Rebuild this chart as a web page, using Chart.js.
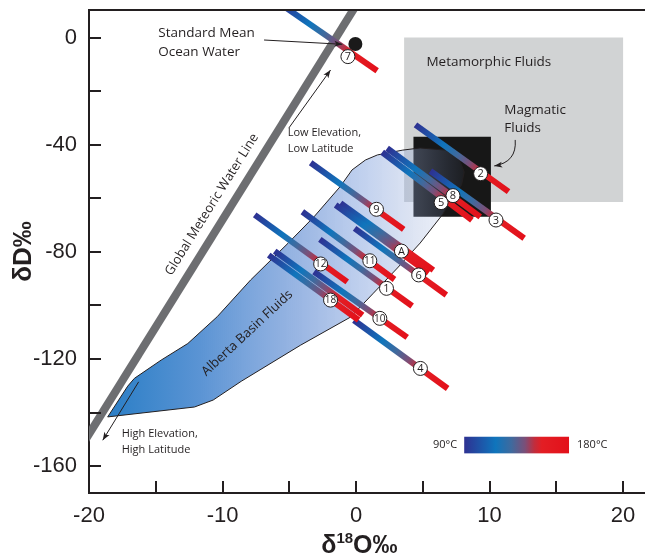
<!DOCTYPE html>
<html>
<head>
<meta charset="utf-8">
<script src="https://cdn.jsdelivr.net/npm/chart.js@4.4.1/dist/chart.umd.min.js"></script>
<style>
  html, body { margin: 0; padding: 0; background: #fff; overflow: hidden; }
</style>
</head>
<body>
<canvas id="chart" width="645" height="557"></canvas>
<script>
// axis ticks (marks) and which of them carry a label
const xTicks = [-20, -15, -10, -5, 0, 5, 10, 15, 20];
const yTicks = [0, -20, -40, -60, -80, -100, -120, -140, -160];
const xTickLabels = [-20, -10, 0, 10, 20];
const yTickLabels = [0, -40, -80, -120, -160];

// global meteoric water line (two end points)
const gmwlX = [-25, 5];
const gmwlY = [-188, 52];

// Alberta basin fluids field outline
const albertaX = [-18.6, -17.1, -16.6, -14.6, -12.6, -10.4, -7.9, -5.1, -3.15, -1.2, -0.3, 0.7, 1.6, 3.5, 4.8, 6.7, 7.7, 8.1, 7.9, 7.2, 6.5, 4.8, 3.1, 1.3, -0.4, -4.15, -8.6, -10.7, -12.1, -18.6];
const albertaY = [-141.6, -130.1, -127.2, -120.4, -114.2, -104.2, -90.5, -76.8, -66.9, -55.7, -49.4, -45.7, -43.8, -42.0, -41.2, -42.0, -45.0, -50.2, -55.0, -59.9, -65.9, -76.7, -86.0, -95.4, -104.3, -114.8, -128.3, -135.3, -137.9, -141.6];

// metamorphic and magmatic fields (x range, y range)
const metamorphicX = [3.6, 20.0];
const metamorphicY = [0, -61.4];
const magmaticX = [4.3, 10.1];
const magmaticY = [-37.0, -66.9];

// standard mean ocean water
const smowX = -0.05;
const smowY = -2.4;

// fluid tracks, 90 C end -> 180 C end
const barStartX = [-5.64, 4.45, 5.57, 2.33, 1.96, -3.40, -7.59, -6.54, -6.09, -4.02, -2.71, -1.53, -1.16, -0.11, -3.15, -0.16];
const barStartY = [12.5, -32.6, -49.8, -41.3, -42.8, -46.7, -66.2, -81.2, -79.7, -65.0, -75.3, -62.5, -61.8, -71.2, -87.4, -105.5];
const barEndX = [1.58, 11.42, 12.59, 9.30, 8.68, 3.57, -0.66, 0.19, 0.49, 2.88, 4.20, 5.42, 5.79, 6.76, 3.83, 6.86];
const barEndY = [-12.4, -57.5, -74.9, -66.9, -68.1, -71.6, -91.2, -105.4, -103.6, -90.3, -100.2, -87.9, -86.8, -96.1, -111.9, -131.0];

// sample markers
const circleLabels = ['7', '2', '3', '5', '8', '9', '12', '18', '11', '1', 'A', '6', '10', '4'];
const circleX = [-0.61, 9.33, 10.48, 6.37, 7.26, 1.53, -2.65, -1.91, 1.03, 2.28, 3.40, 4.69, 1.78, 4.82];
const circleY = [-7.1, -50.8, -68.1, -61.6, -59.0, -64.1, -84.5, -98.0, -83.3, -93.6, -79.7, -88.6, -104.8, -123.5];

// temperature legend
const legendX = [8.1, 15.95];
const legendY = [-149.0, -155.2];
const legendText = ['90°C', '180°C'];

const INK = '#231f20';
const SANS = '"Open Sans", "Noto Sans", sans-serif';
const ARIAL = '"Liberation Sans", Arial, sans-serif';
const tempStops = [[0, '#2e3192'], [0.3, '#0f75bc'], [0.45, '#3f6a9e'], [0.58, '#7b4f78'], [0.67, '#c12d3d'], [0.74, '#e31e24'], [1, '#e3101a']];

const notes = [
  {text: 'Standard Mean', x: -14.81, y: 1.6, size: 13.5},
  {text: 'Ocean Water', x: -14.81, y: -5.3, size: 13.5},
  {text: 'Metamorphic Fluids', x: 5.27, y: -9.1, size: 13.5},
  {text: 'Magmatic', x: 11.1, y: -27.0, size: 13.5},
  {text: 'Fluids', x: 11.1, y: -33.8, size: 13.5},
  {text: 'Low Elevation,', x: -5.12, y: -35.4, size: 11},
  {text: 'Low Latitude', x: -5.12, y: -41.4, size: 11},
  {text: 'High Elevation,', x: -17.55, y: -147.8, size: 11},
  {text: 'High Latitude', x: -17.55, y: -154.0, size: 11},
  {text: 'Global Meteoric Water Line', x: -10.8, y: -62.3, size: 13, angle: -58, align: 'center'},
  {text: 'Alberta Basin Fluids', x: -8.15, y: -110.3, size: 13, angle: -43, align: 'center'}
];
const arrows = [
  {from: [-6.89, -0.9], to: [-1.03, -2.5]},
  {from: [-5.04, -33.8], to: [-1.91, -12.1]},
  {from: [-16.28, -128.5], to: [-18.97, -150.3]},
  {from: [11.92, -38.2], via: [12.05, -46.5], to: [10.35, -47.9]}
];

const pts = (xs, ys) => xs.map((v, i) => ({x: v, y: ys[i]}));
const box = (xs, ys) => pts([xs[0], xs[1], xs[1], xs[0], xs[0]], [ys[0], ys[0], ys[1], ys[1], ys[0]]);

function tempGradient(c){
  const chart = c.chart;
  if (!chart.chartArea) return '#0f75bc';
  const {x, y} = chart.scales;
  const d = c.dataset.data;
  const g = chart.ctx.createLinearGradient(x.getPixelForValue(d[0].x), y.getPixelForValue(d[0].y), x.getPixelForValue(d[1].x), y.getPixelForValue(d[1].y));
  tempStops.forEach(s => g.addColorStop(s[0], s[1]));
  return g;
}

function basinFill(c){
  const chart = c.chart;
  if (!chart.chartArea) return 'rgba(0,0,0,0)';
  const x = chart.scales.x;
  const g = chart.ctx.createLinearGradient(x.getPixelForValue(Math.min(...albertaX)), 0, x.getPixelForValue(Math.max(...albertaX)), 0);
  g.addColorStop(0, 'rgba(42,126,198,1)');
  g.addColorStop(0.26, 'rgba(91,148,212,1)');
  g.addColorStop(0.54, 'rgba(129,164,220,0.8)');
  g.addColorStop(0.73, 'rgba(137,167,223,0.5)');
  g.addColorStop(0.88, 'rgba(150,170,215,0.28)');
  g.addColorStop(1, 'rgba(120,150,215,0.06)');
  return g;
}

const datasets = [];
datasets.push({data: pts(gmwlX, gmwlY), borderColor: '#6d6e71', borderWidth: 8, borderCapStyle: 'butt', pointRadius: 0, fill: false, order: 10, clip: 0});
datasets.push({data: box(metamorphicX, metamorphicY), borderColor: 'rgba(0,0,0,0)', backgroundColor: '#d1d3d4', pointRadius: 0, fill: 'shape', order: 9});
datasets.push({data: box(magmaticX, magmaticY), borderColor: 'rgba(0,0,0,0)', backgroundColor: '#171717', pointRadius: 0, fill: 'shape', order: 8});
datasets.push({data: pts(albertaX, albertaY), borderColor: INK, borderWidth: 1, backgroundColor: basinFill, pointRadius: 0, fill: 'shape', order: 7});
barStartX.forEach((v, i) => {
  datasets.push({data: [{x: v, y: barStartY[i]}, {x: barEndX[i], y: barEndY[i]}], borderColor: tempGradient, borderWidth: 6, borderCapStyle: 'butt', pointRadius: 0, fill: false, order: 5, clip: 0});
});
datasets.push({data: [{x: smowX, y: smowY}], showLine: false, pointRadius: 7, pointBackgroundColor: '#1a1a1a', pointBorderWidth: 0, order: 4});
const circleIdx = datasets.length;
datasets.push({data: pts(circleX, circleY), showLine: false, pointRadius: 7, pointBackgroundColor: '#fff', pointBorderColor: INK, pointBorderWidth: 1, order: 3, clip: false});

function arrowHead(ctx, fx, fy, tx, ty){
  const ang = Math.atan2(ty - fy, tx - fx);
  ctx.beginPath();
  ctx.moveTo(tx, ty);
  ctx.lineTo(tx - 8 * Math.cos(ang) + 3 * Math.sin(ang), ty - 8 * Math.sin(ang) - 3 * Math.cos(ang));
  ctx.lineTo(tx - 6 * Math.cos(ang), ty - 6 * Math.sin(ang));
  ctx.lineTo(tx - 8 * Math.cos(ang) - 3 * Math.sin(ang), ty - 8 * Math.sin(ang) + 3 * Math.cos(ang));
  ctx.closePath();
  ctx.fill();
}

const annot = {
  id: 'annot',
  afterDatasetsDraw(chart){
    const {ctx, chartArea: a, scales: {x, y}} = chart;
    const px = v => x.getPixelForValue(v), py = v => y.getPixelForValue(v);
    ctx.save();
    // top frame line and inward ticks
    ctx.strokeStyle = INK; ctx.lineWidth = 2;
    ctx.beginPath();
    ctx.moveTo(a.left - 1, a.top); ctx.lineTo(a.right, a.top);
    x.ticks.forEach(t => { const p = Math.round(px(t.value)); ctx.moveTo(p, a.bottom); ctx.lineTo(p, a.bottom - 12); });
    y.ticks.forEach(t => { const p = Math.round(py(t.value)); ctx.moveTo(a.left, p); ctx.lineTo(a.left + 12, p); });
    ctx.stroke();

    // circle labels
    ctx.fillStyle = INK;
    ctx.textAlign = 'center'; ctx.textBaseline = 'middle';
    chart.getDatasetMeta(circleIdx).data.forEach((pt, i) => {
      ctx.font = (circleLabels[i].length > 1 ? '10px ' : '11px ') + SANS;
      ctx.fillText(circleLabels[i], pt.x, pt.y + 0.5);
    });

    // text notes
    notes.forEach(n => {
      ctx.save();
      ctx.translate(px(n.x), py(n.y));
      ctx.rotate((n.angle || 0) * Math.PI / 180);
      ctx.font = n.size + 'px ' + SANS;
      ctx.textAlign = n.align || 'left';
      ctx.fillText(n.text, 0, 0);
      ctx.restore();
    });

    // arrows
    ctx.lineWidth = 1; ctx.strokeStyle = INK;
    arrows.forEach(r => {
      const fx = px(r.from[0]), fy = py(r.from[1]), tx = px(r.to[0]), ty = py(r.to[1]);
      ctx.beginPath();
      ctx.moveTo(fx, fy);
      if (r.via) {
        const vx = px(r.via[0]), vy = py(r.via[1]);
        ctx.quadraticCurveTo(vx, vy, tx, ty);
        ctx.stroke();
        arrowHead(ctx, vx, vy, tx, ty);
      } else {
        ctx.lineTo(tx, ty);
        ctx.stroke();
        arrowHead(ctx, fx, fy, tx, ty);
      }
    });

    // temperature colour bar
    const lx0 = px(legendX[0]), lx1 = px(legendX[1]), ly0 = py(legendY[0]), ly1 = py(legendY[1]);
    const g = ctx.createLinearGradient(lx0, 0, lx1, 0);
    tempStops.forEach(s => g.addColorStop(s[0], s[1]));
    ctx.fillStyle = g;
    ctx.fillRect(lx0, ly0, lx1 - lx0, ly1 - ly0);
    ctx.fillStyle = INK; ctx.font = '11px ' + SANS; ctx.textBaseline = 'middle';
    ctx.textAlign = 'right'; ctx.fillText(legendText[0], lx0 - 7, (ly0 + ly1) / 2);
    ctx.textAlign = 'left'; ctx.fillText(legendText[1], lx1 + 8, (ly0 + ly1) / 2);
    ctx.restore();
  },
  afterDraw(chart){
    // x axis title with superscript
    const {ctx, chartArea: a, scales: {x}} = chart;
    const big = 'bold 25px ' + ARIAL, small = 'bold 15px ' + ARIAL;
    ctx.save();
    ctx.fillStyle = INK; ctx.textAlign = 'left'; ctx.textBaseline = 'alphabetic';
    ctx.font = big; const w1 = ctx.measureText('δ').width, w3 = ctx.measureText('O‰').width;
    ctx.font = small; const w2 = ctx.measureText('18').width;
    let cx = x.getPixelForValue(0.25) - (w1 + w2 + w3) / 2;
    const base = a.bottom + 60;
    ctx.font = big; ctx.fillText('δ', cx, base); cx += w1;
    ctx.font = small; ctx.fillText('18', cx, base - 10); cx += w2;
    ctx.font = big; ctx.fillText('O‰', cx, base);
    ctx.restore();
  }
};

new Chart(document.getElementById('chart'), {
  type: 'line',
  data: {datasets},
  options: {
    responsive: false,
    animation: false,
    events: [],
    layout: {autoPadding: false, padding: {top: 10, right: 0, bottom: 0, left: 0}},
    plugins: {legend: {display: false}, tooltip: {enabled: false}},
    scales: {
      x: {
        type: 'linear', min: -20, max: 21.64,
        afterBuildTicks: s => { s.ticks = xTicks.map(v => ({value: v})); },
        ticks: {autoSkip: false, maxRotation: 0, padding: 10, color: INK,
          font: {family: ARIAL, size: 22},
          callback: v => xTickLabels.includes(v) ? String(v) : ''},
        grid: {drawOnChartArea: false, drawTicks: false},
        border: {color: INK, width: 2},
        afterFit: s => { s.height = 64; s.paddingLeft = 0; s.paddingRight = 0; }
      },
      y: {
        type: 'linear', min: -170, max: 10.3,
        afterBuildTicks: s => { s.ticks = yTicks.slice().reverse().map(v => ({value: v})); },
        ticks: {autoSkip: false, padding: 12, color: INK,
          font: {family: ARIAL, size: 22},
          callback: v => yTickLabels.includes(v) ? String(v) : ''},
        grid: {drawOnChartArea: false, drawTicks: false},
        border: {color: INK, width: 2},
        title: {display: true, text: 'δD‰', color: INK, font: {family: ARIAL, size: 26, weight: 'bold'}, padding: {top: 8, bottom: 0}},
        afterFit: s => { s.width = 89; s.paddingTop = 0; s.paddingBottom = 0; }
      }
    }
  },
  plugins: [annot]
});
</script>
</body>
</html>
